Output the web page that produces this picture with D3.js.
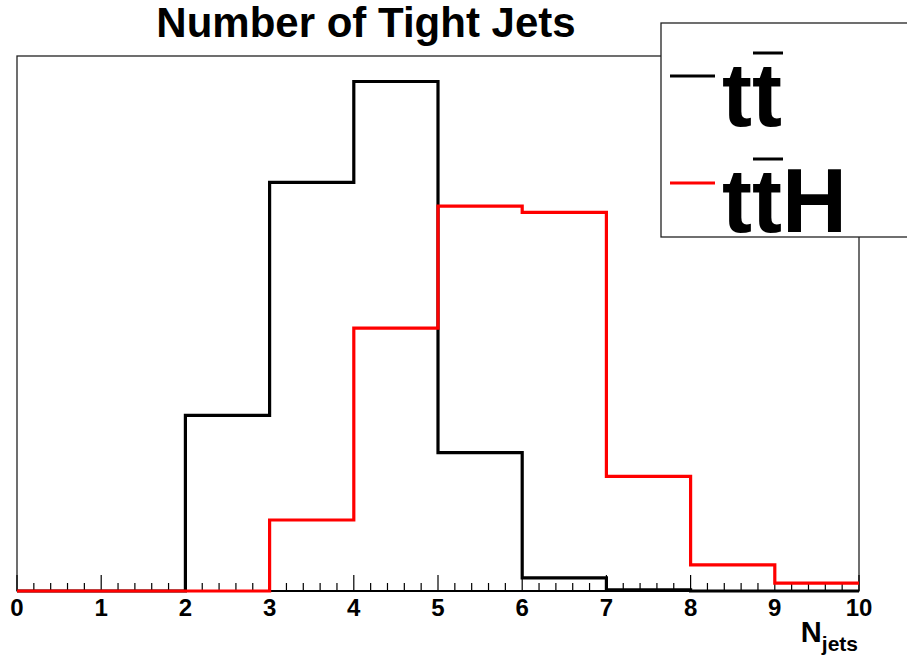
<!DOCTYPE html>
<html>
<head>
<meta charset="utf-8">
<script src="https://cdn.jsdelivr.net/npm/d3@7"></script>
<style>
  body { margin: 0; background: #fff; }
  text { font-family: "Liberation Sans", Arial, sans-serif; font-weight: bold; }
</style>
</head>
<body>
<svg width="907" height="657"></svg>
<script>
// bin lower edges 0..9, one bin per jet multiplicity
const bins = [0, 1, 2, 3, 4, 5, 6, 7, 8, 9];
const ttValues = [0, 0, 0.141, 0.328, 0.409, 0.111, 0.0105, 0.001, 0, 0];
const tthValues = [0, 0, 0, 0.057, 0.211, 0.309, 0.304, 0.092, 0.021, 0.0064];
const tickLabels = ["0", "1", "2", "3", "4", "5", "6", "7", "8", "9", "10"];

const svg = d3.select("svg");
const frameL = 17, frameR = 859, frameT = 56, frameB = 591;

const x = d3.scaleLinear().domain([0, 10]).range([frameL, frameR]);
const y = d3.scaleLinear().domain([0, d3.max(ttValues.concat(tthValues)) * 1.05]).range([frameB, frameT]);

// frame
svg.append("rect")
  .attr("x", frameL).attr("y", frameT)
  .attr("width", frameR - frameL).attr("height", frameB - frameT)
  .attr("fill", "none").attr("stroke", "#222").attr("stroke-width", 1.3);

// ticks drawn inside, upward
const minor = d3.range(0, 10.001, 0.2);
svg.append("g").selectAll("line")
  .data(minor)
  .join("line")
  .attr("x1", d => x(d)).attr("x2", d => x(d))
  .attr("y1", frameB)
  .attr("y2", d => Math.abs(d - Math.round(d)) < 1e-6 ? frameB - 16 : frameB - 8)
  .attr("stroke", "#000").attr("stroke-width", 1.2);

svg.append("line")
  .attr("x1", frameL).attr("x2", frameR).attr("y1", frameB).attr("y2", frameB)
  .attr("stroke", "#000").attr("stroke-width", 2);

svg.append("g").selectAll("text")
  .data(tickLabels)
  .join("text")
  .attr("x", (d, i) => x(i))
  .attr("y", 616)
  .attr("text-anchor", "middle")
  .attr("font-size", 24)
  .text(d => d);

// axis title
const xt = svg.append("text").attr("x", 858).attr("y", 642).attr("text-anchor", "end").attr("font-size", 29);
xt.append("tspan").text("N");
xt.append("tspan").attr("dy", 9).attr("font-size", 21).text("jets");

// title
svg.append("text")
  .attr("x", 366).attr("y", 37)
  .attr("text-anchor", "middle")
  .attr("font-size", 42)
  .text("Number of Tight Jets");

const line = d3.line()
  .x(d => x(d[0]))
  .y(d => y(d[1]))
  .curve(d3.curveStepAfter);

function steps(vals) {
  const pts = bins.map((b, i) => [b, vals[i]]);
  pts.push([10, vals[vals.length - 1]]);
  return pts;
}

svg.append("path")
  .attr("d", line(steps(ttValues)))
  .attr("fill", "none").attr("stroke", "#000").attr("stroke-width", 3.2);

svg.append("path")
  .attr("d", line(steps(tthValues)))
  .attr("fill", "none").attr("stroke", "#ff0000").attr("stroke-width", 3.2);

// legend
const lg = svg.append("g");
lg.append("rect")
  .attr("x", 661).attr("y", 23)
  .attr("width", 260).attr("height", 214)
  .attr("fill", "#fff").attr("stroke", "#222").attr("stroke-width", 1.3);

const entries = [
  {label: "t", bar: "t", extra: "", color: "#000", ly: 76, ty: 126},
  {label: "t", bar: "t", extra: "H", color: "#ff0000", ly: 183, ty: 232}
];
entries.forEach(e => {
  lg.append("line")
    .attr("x1", 670).attr("x2", 715).attr("y1", e.ly).attr("y2", e.ly)
    .attr("stroke", e.color).attr("stroke-width", 3);
  const t = lg.append("text").attr("x", 722).attr("y", e.ty).attr("font-size", 90);
  t.append("tspan").text(e.label);
  t.append("tspan").text(e.bar);
  t.append("tspan").text(e.extra);
  lg.append("line")
    .attr("x1", 753).attr("x2", 783).attr("y1", e.ty - 73).attr("y2", e.ty - 73)
    .attr("stroke", "#000").attr("stroke-width", 3);
});
</script>
</body>
</html>
